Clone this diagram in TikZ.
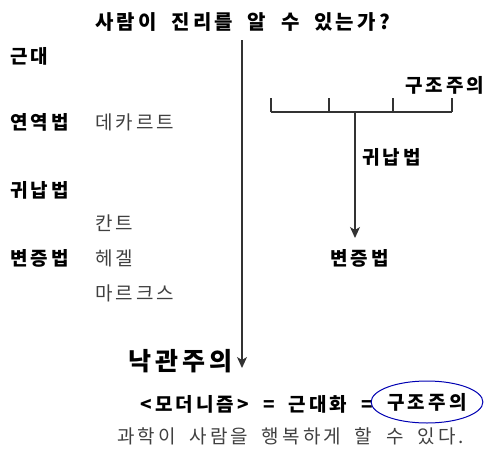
\documentclass[tikz,border=0pt]{standalone}
\usepackage{fontspec}
\setmainfont{Noto Sans CJK KR}[LetterSpace=16,WordSpace=1.9]
\usetikzlibrary{shapes.geometric,arrows.meta}

\begin{document}
\begin{tikzpicture}[x=1pt,y=-1pt,
  bold/.style={font=\fontsize{19}{23}\selectfont\bfseries, inner sep=0pt, anchor=west},
  thin/.style={font=\fontsize{19}{23}\selectfont, text=black!75, inner sep=0pt, anchor=west},
  line/.style={draw=black!80, line width=1.4pt},
  tip/.style={-{Stealth[length=11pt,width=10pt,inset=3pt]}}]
\useasboundingbox (0,0) rectangle (490,453);
\node[bold, font=\fontsize{20}{24}\selectfont\bfseries] (title) at (95,22) {사람이 진리를 알 수 있는가?};
\node[bold] (modern) at (10,56) {근대};
\node[bold] (deduct) at (10,122) {연역법};
\node[thin] (descartes) at (95,122) {데카르트};
\node[bold] (induct) at (10,190) {귀납법};
\node[thin] (kant) at (95,223) {칸트};
\node[bold] (dialect) at (10,258) {변증법};
\node[thin] (hegel) at (95,258) {헤겔};
\node[thin] (marx) at (95,293) {마르크스};
% main axis
\coordinate (top) at (242,40);
\coordinate (bot) at (242,368);
\draw[line,tip] (top) -- (bot);
\node[bold, font=\fontsize{25}{29}\selectfont\bfseries, anchor=east] (optim) at (233,361) {낙관주의};
% bracket
\foreach \x [count=\i] in {271,329,393,452} {
  \coordinate (b\i) at (\x,112);
  \draw[line] (b\i) -- ++(0,-14);
}
\draw[line] (b1) -- (b4);
\coordinate (stem) at (355,112);
\coordinate (dtip) at (355,238);
\draw[line,tip] (stem) -- (dtip);
\node[bold] (struct) at (405,85) {구조주의};
\node[bold] (induct2) at (362,157) {귀납법};
\node[bold] (dialect2) at (330,258) {변증법};
% bottom
\node[bold, anchor=east] (eq) at (373,404) {<모더니즘> = 근대화 =};
\node[bold, anchor=center, ellipse, draw=blue!70!black, line width=1pt,
  minimum width=106, minimum height=42] (ring) at (427,402) {구조주의};
\node[thin] (happy) at (117,436) {과학이 사람을 행복하게 할 수 있다.};
\end{tikzpicture}
\end{document}
